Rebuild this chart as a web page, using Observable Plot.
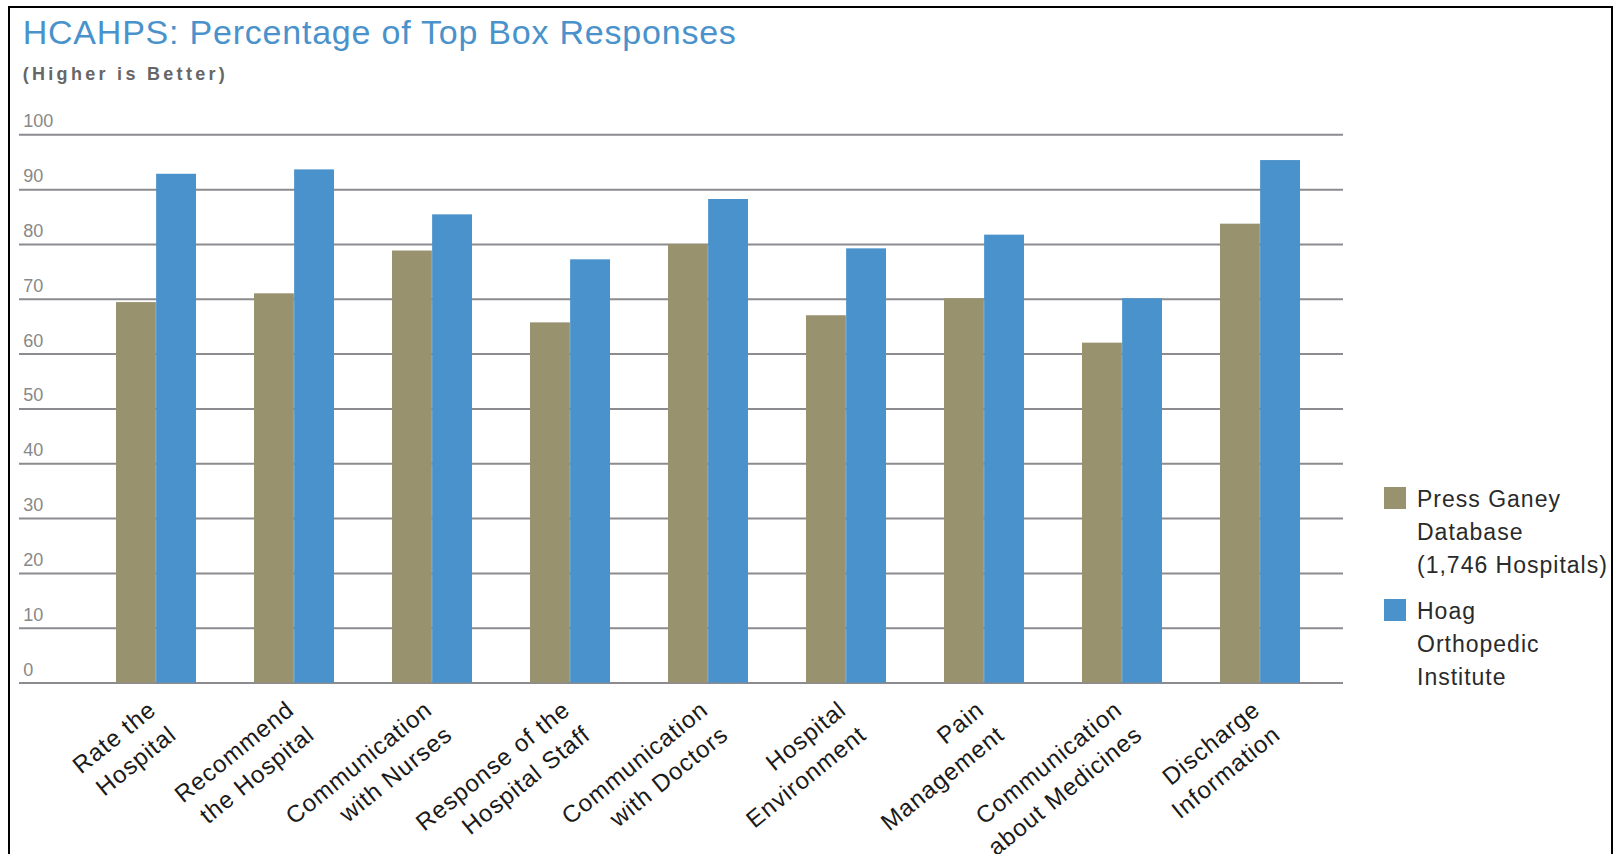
<!DOCTYPE html>
<html><head><meta charset="utf-8">
<script src="https://cdn.jsdelivr.net/npm/d3@7"></script>
<script src="https://cdn.jsdelivr.net/npm/@observablehq/plot@0.6"></script>
<style>
html,body{margin:0;padding:0;background:#fff;overflow:hidden;}
body{width:1619px;height:854px;position:relative;font-family:"Liberation Sans",Arial,Helvetica,sans-serif;}
#frame{position:absolute;left:8px;top:6px;width:1601px;height:900px;border:2px solid #000;border-bottom:none;}
.t{position:absolute;white-space:nowrap;}
#title{left:22.7px;top:15px;font-size:34px;line-height:34px;color:#4a92cb;letter-spacing:0.78px;}
#subtitle{left:22.7px;top:65px;font-size:18px;line-height:18px;font-weight:bold;color:#666;letter-spacing:3.3px;}
#chart{position:absolute;left:0;top:100px;}
#chart svg{overflow:hidden;}
#chart g[aria-label="x-axis tick label"] text{letter-spacing:1px;}
.lg{position:absolute;left:1384px;width:22px;height:22px;}
.lt{position:absolute;left:1417px;font-size:23px;line-height:33px;color:#2a2a2a;letter-spacing:1px;white-space:nowrap;}
</style></head><body>
<div id="frame"></div>
<div class="t" id="title">HCAHPS: Percentage of Top Box Responses</div>
<div class="t" id="subtitle">(Higher is Better)</div>
<div id="chart"></div>
<div id="legend"></div>
<script>
// ---- data ----
const categories = [
  "Rate the\nHospital",
  "Recommend\nthe Hospital",
  "Communication\nwith Nurses",
  "Response of the\nHospital Staff",
  "Communication\nwith Doctors",
  "Hospital\nEnvironment",
  "Pain\nManagement",
  "Communication\nabout Medicines",
  "Discharge\nInformation"
];
const seriesNames = ["Press Ganey Database (1,746 Hospitals)", "Hoag Orthopedic Institute"];
const legendLines = [["Press Ganey", "Database", "(1,746 Hospitals)"], ["Hoag", "Orthopedic", "Institute"]];
const pressGaney = [69.4, 71.0, 78.8, 65.7, 80.0, 67.0, 70.1, 62.0, 83.7];
const hoag = [92.8, 93.6, 85.4, 77.2, 88.2, 79.2, 81.7, 70.1, 95.3];
const yTicks = [0, 10, 20, 30, 40, 50, 60, 70, 80, 90, 100];
const colors = ["#98926e", "#4a92cb"];

// ---- layout ----
const W = 1619, H = 754;
const xRange = [85.8, 1331.2];
const padInner = 0.42;
const step = (xRange[1] - xRange[0]) / categories.length;
const half = step * (1 - padInner) / 2;

const rows = categories.map((c, i) => ({cat: c, a: pressGaney[i], b: hoag[i]}));

const chart = Plot.plot({
  width: W,
  height: H,
  marginTop: 34.3,
  marginBottom: H - 582.6,
  marginLeft: 19,
  marginRight: W - 1343,
  style: {fontFamily: '"Liberation Sans", Arial, Helvetica, sans-serif', background: "transparent", overflow: "hidden"},
  x: {domain: categories, range: xRange, paddingInner: padInner, paddingOuter: padInner / 2, label: null},
  y: {domain: [0, 100], label: null},
  marks: [
    Plot.ruleY(yTicks, {stroke: "#8b8b90", strokeWidth: 2}),
    Plot.barY(rows, {x: "cat", y: "a", fill: colors[0], insetRight: half, insetLeft: 0}),
    Plot.barY(rows, {x: "cat", y: "b", fill: colors[1], insetLeft: half, insetRight: 0}),
    Plot.axisY({ticks: yTicks, tickSize: 0, tickPadding: 0, textAnchor: "start", lineAnchor: "bottom",
      dx: 3.7, dy: -7.5, fontSize: 18, fill: "#888", label: null}),
    Plot.axisX({tickSize: 0, tickPadding: 0, tickRotate: -39, textAnchor: "end", lineAnchor: "top",
      lineHeight: 1.33, fontSize: 24, fill: "#1a1a1a", dx: -13, dy: 11.8, label: null})
  ]
});
document.getElementById("chart").appendChild(chart);

// ---- legend ----
const legend = document.getElementById("legend");
const swatchTops = [487, 599];
const textTops = [482.6, 594.6];
seriesNames.forEach((name, i) => {
  const sw = document.createElement("div");
  sw.className = "lg";
  sw.style.top = swatchTops[i] + "px";
  sw.style.background = colors[i];
  sw.title = name;
  legend.appendChild(sw);
  const tx = document.createElement("div");
  tx.className = "lt";
  tx.style.top = textTops[i] + "px";
  tx.innerHTML = legendLines[i].join("<br>");
  legend.appendChild(tx);
});
</script>
</body></html>
